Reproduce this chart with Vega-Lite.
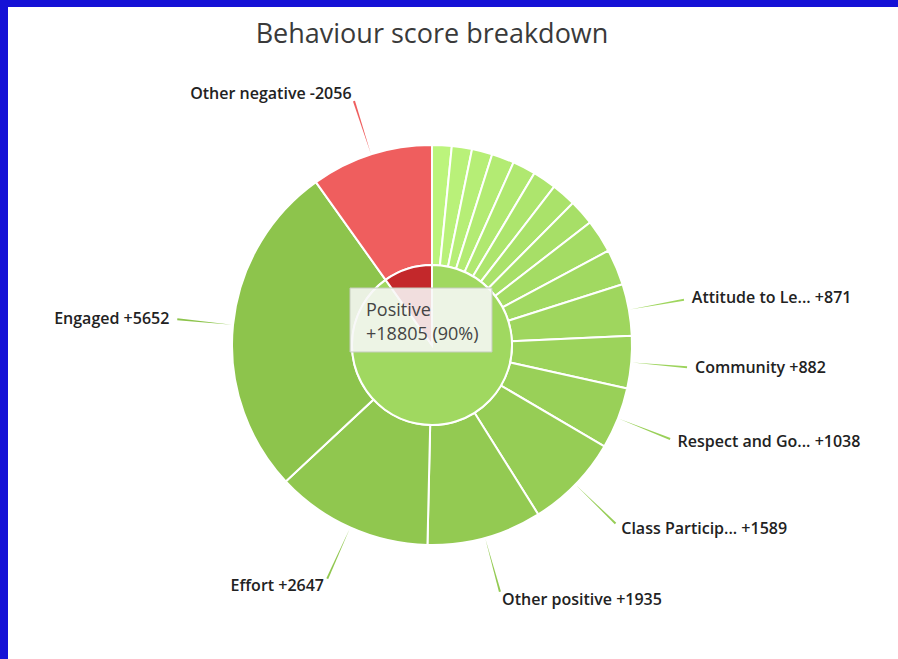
{
  "$schema": "https://vega.github.io/schema/vega-lite/v6.json",
  "background": "white",
  "padding": 0,
  "bounds": "flush",
  "spacing": 0,
  "config": {"view": {"stroke": null}, "font": "Open Sans", "concat": {"spacing": 0}},
  "datasets": {
    "outer": [
      {"category": "Positive category 1", "group": "Positive", "value": 330},
      {"category": "Positive category 2", "group": "Positive", "value": 340},
      {"category": "Positive category 3", "group": "Positive", "value": 345},
      {"category": "Positive category 4", "group": "Positive", "value": 380},
      {"category": "Positive category 5", "group": "Positive", "value": 390},
      {"category": "Positive category 6", "group": "Positive", "value": 398},
      {"category": "Positive category 7", "group": "Positive", "value": 412},
      {"category": "Positive category 8", "group": "Positive", "value": 430},
      {"category": "Positive category 9", "group": "Positive", "value": 560},
      {"category": "Positive category 10", "group": "Positive", "value": 606},
      {"category": "Attitude to Learning", "group": "Positive", "value": 871},
      {"category": "Community", "group": "Positive", "value": 882},
      {"category": "Respect and Good Manners", "group": "Positive", "value": 1038},
      {"category": "Class Participation", "group": "Positive", "value": 1589},
      {"category": "Other positive", "group": "Positive", "value": 1935},
      {"category": "Effort", "group": "Positive", "value": 2647},
      {"category": "Engaged", "group": "Positive", "value": 5652},
      {"category": "Other negative", "group": "Negative", "value": 2056}
    ],
    "inner": [
      {"group": "Positive", "value": 18805},
      {"group": "Negative", "value": 2056}
    ],
    "heading": [{"text": "Behaviour score breakdown"}]
  },
  "hconcat": [
    {
      "width": 8, "height": 659,
      "view": {"fill": "#1511d6", "stroke": null},
      "data": {"values": []},
      "mark": {"type": "point", "opacity": 0}
    },
    {
      "spacing": 0,
      "bounds": "flush",
      "vconcat": [
        {
          "width": 890, "height": 7,
          "view": {"fill": "#1511d6", "stroke": null},
          "data": {"values": []},
          "mark": {"type": "point", "opacity": 0}
        },
        {
          "width": 848, "height": 24,
          "data": {"name": "heading"},
          "mark": {"type": "text", "fontSize": 27, "fill": "#3a3a3a", "baseline": "alphabetic", "dy": 24, "align": "center"},
          "encoding": {"text": {"field": "text", "type": "nominal"}}
        },
        {
          "width": 848, "height": 628,
          "layer": [
            {
              "data": {"name": "outer"},
              "transform": [{"window": [{"op": "row_number", "as": "idx"}]}],
              "mark": {"type": "arc", "innerRadius": 80, "outerRadius": 200, "stroke": "white", "strokeWidth": 2},
              "encoding": {
                "theta": {"field": "value", "type": "quantitative", "stack": true},
                "order": {"field": "idx", "type": "quantitative", "sort": "ascending"},
                "color": {"field": "category", "type": "nominal", "legend": null,
                  "scale": {
                    "domain": ["Positive category 1", "Positive category 2", "Positive category 3", "Positive category 4", "Positive category 5", "Positive category 6", "Positive category 7", "Positive category 8", "Positive category 9", "Positive category 10", "Attitude to Learning", "Community", "Respect and Good Manners", "Class Participation", "Other positive", "Effort", "Engaged", "Other negative"],
                    "range": ["#bcf47c", "#b9f179", "#b6ee76", "#b3eb73", "#b0e870", "#ade56d", "#aae26a", "#a7df67", "#a4dc64", "#a1d961", "#9fd65e", "#9cd35b", "#99d058", "#96cd55", "#93ca52", "#90c74f", "#8dc44c", "#ef5e5e"]
                  }}
              }
            },
            {
              "data": {"name": "inner"},
              "transform": [{"window": [{"op": "row_number", "as": "idx"}]}],
              "mark": {"type": "arc", "outerRadius": 80, "stroke": "white", "strokeWidth": 2},
              "encoding": {
                "theta": {"field": "value", "type": "quantitative", "stack": true},
                "order": {"field": "idx", "type": "quantitative", "sort": "ascending"},
                "fill": {"field": "group", "type": "nominal", "legend": null,
                  "scale": {"domain": ["Positive", "Negative"], "range": ["#a0d860", "#c3282b"]}}
              }
            },
            {
              "data": {"name": "outer"},
              "transform": [{"window": [{"op": "row_number", "as": "idx"}]}],
              "mark": {"type": "arc", "innerRadius": 201, "outerRadius": 256,
                "padAngle": {"expr": "2*asin(min(1, 256*sin(PI*datum.value/20861 - 0.004)/325.48))"}},
              "encoding": {
                "theta": {"field": "value", "type": "quantitative", "stack": true},
                "order": {"field": "idx", "type": "quantitative", "sort": "ascending"},
                "color": {"field": "category", "type": "nominal", "legend": null},
                "opacity": {"condition": {"test": "datum.value < 800", "value": 0}, "value": 1}
              }
            },
            {
              "data": {"name": "outer"},
              "transform": [
                {"window": [{"op": "row_number", "as": "idx"}]},
                {"calculate": "(length(datum.category) > 14 ? substring(datum.category, 0, 14) + '...' : datum.category) + (datum.group == 'Negative' ? ' -' : ' +') + datum.value", "as": "label"}
              ],
              "mark": {"type": "text", "radius": 264, "fontSize": 16, "fontWeight": 600, "fill": "#222222", "baseline": "middle",
                "align": {"expr": "datum.value_start + datum.value_end > 20861 ? 'right' : 'left'"}},
              "encoding": {
                "theta": {"field": "value", "type": "quantitative", "stack": true},
                "order": {"field": "idx", "type": "quantitative", "sort": "ascending"},
                "text": {"condition": {"test": "datum.value < 800", "value": ""}, "field": "label", "type": "nominal"}
              }
            },
            {
              "data": {"name": "inner"},
              "transform": [{"filter": "datum.group == 'Positive'"}],
              "mark": {"type": "point", "shape": "M-1,-0.4507L1,-0.4507L1,0.4507L-1,0.4507Z", "size": 20164, "filled": true,
                "fill": "#f7f7f7", "fillOpacity": 0.88, "opacity": 1, "stroke": "#c5cdbd", "strokeWidth": 1, "strokeOpacity": 1,
                "xOffset": -11, "yOffset": -25}
            },
            {
              "data": {"name": "inner"},
              "transform": [
                {"joinaggregate": [{"op": "sum", "field": "value", "as": "total"}]},
                {"filter": "datum.group == 'Positive'"},
                {"calculate": "datum.group + '\\n+' + datum.value + ' (' + format(datum.value / datum.total, '.0%') + ')'", "as": "tip"}
              ],
              "mark": {"type": "text", "align": "left", "baseline": "middle", "fontSize": 18, "lineHeight": 24, "lineBreak": "\n",
                "fill": "#444444", "xOffset": -66, "yOffset": -34},
              "encoding": {"text": {"field": "tip", "type": "nominal"}}
            }
          ]
        }
      ]
    }
  ]
}
